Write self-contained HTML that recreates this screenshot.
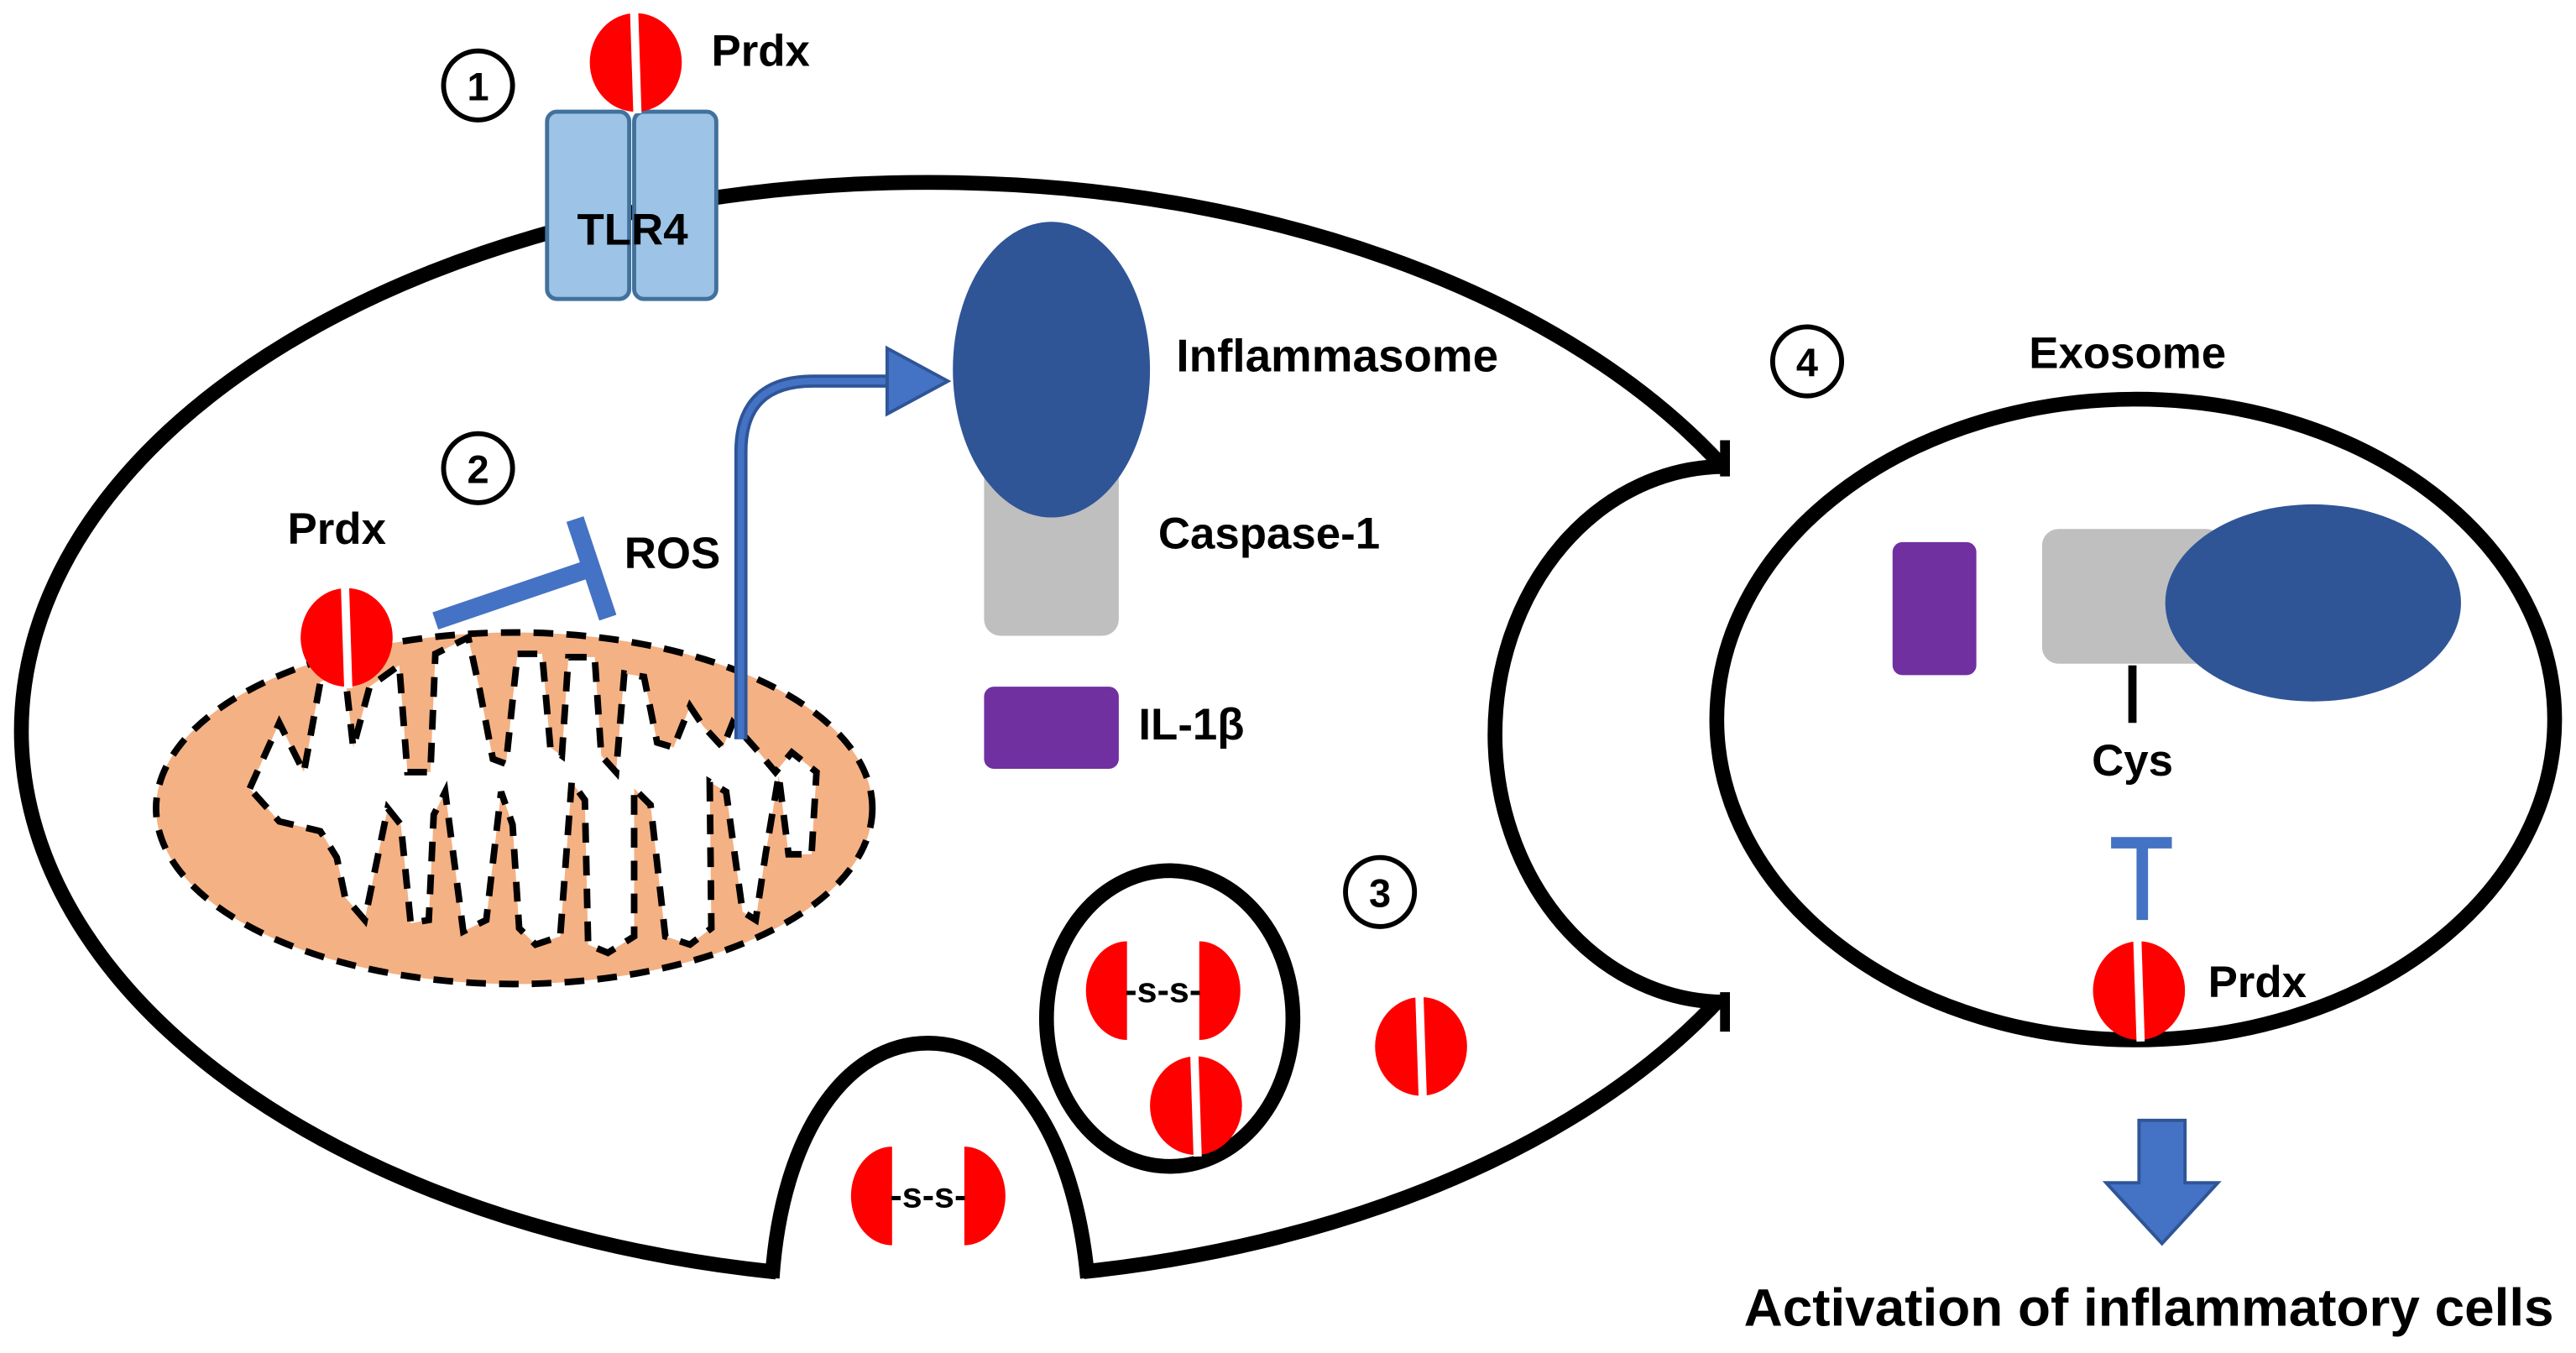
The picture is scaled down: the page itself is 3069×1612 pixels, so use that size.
<!DOCTYPE html>
<html><head><meta charset="utf-8"><style>
html,body{margin:0;padding:0;background:#fff;}
svg{display:block;}
text{font-family:"Liberation Sans",Arial,sans-serif;font-weight:bold;fill:#000;}
</style></head><body>
<svg width="3069" height="1612" viewBox="0 0 1568 823.6" preserveAspectRatio="none" xmlns="http://www.w3.org/2000/svg">
<defs>
<g id="prdx">
<ellipse cx="0" cy="0" rx="28" ry="30" fill="#ff0000"/>
<line x1="-1" y1="-31" x2="1" y2="31" stroke="#fff" stroke-width="5"/>
</g>
<g id="ss">
<path d="M-22,-30 A25,30 0 0 0 -22,30 Z" fill="#ff0000"/>
<path d="M22,-30 A25,30 0 0 1 22,30 Z" fill="#ff0000"/>
<text x="0" y="7" font-size="22" text-anchor="middle" font-weight="normal">-s-s-</text>
</g>
</defs>

<clipPath id="cellclip"><rect x="0" y="0" width="1050" height="824"/></clipPath>
<g clip-path="url(#cellclip)">
<ellipse cx="565" cy="445" rx="552" ry="334" fill="none" stroke="#000" stroke-width="9"/>
</g>
<path d="M1050,284 A140,163 0 0 0 1050,610 L1100,610 L1100,284 Z" fill="#fff"/>
<path d="M1050,284 A140,163 0 0 0 1050,610" fill="none" stroke="#000" stroke-width="9"/>
<line x1="1050" y1="268" x2="1050" y2="290" stroke="#000" stroke-width="6"/>
<line x1="1050" y1="604" x2="1050" y2="628" stroke="#000" stroke-width="6"/>
<path d="M472,790 L472,770 C478,690 515,635 565,635 C615,635 652,690 660,770 L660,790 Z" fill="#fff"/>
<path d="M470,778 C476,690 515,635 565,635 C615,635 654,690 662,778" fill="none" stroke="#000" stroke-width="9"/>
<rect x="465" y="780" width="205" height="20" fill="#fff"/>
<rect x="1053" y="240" width="20" height="420" fill="#fff"/>

<rect x="333" y="68" width="50" height="114" rx="6" fill="#9dc3e6" stroke="#41719c" stroke-width="2.5"/>
<rect x="386" y="68" width="50" height="114" rx="6" fill="#9dc3e6" stroke="#41719c" stroke-width="2.5"/>
<text x="385" y="149" font-size="27" text-anchor="middle">TLR4</text>
<use href="#prdx" x="387" y="38"/>
<text x="433" y="40" font-size="27">Prdx</text>
<circle cx="291" cy="52" r="21" fill="#fff" stroke="#000" stroke-width="3"/>
<text x="291" y="61" font-size="24" text-anchor="middle" font-weight="normal">1</text>

<rect x="599" y="280" width="82" height="107" rx="10" fill="#bfbfbf"/>
<ellipse cx="640" cy="225" rx="60" ry="90" fill="#2f5597"/>
<text x="716" y="226" font-size="28">Inflammasome</text>
<text x="705" y="334" font-size="27">Caspase-1</text>
<rect x="599" y="418" width="82" height="50" rx="6" fill="#7030a0"/>
<text x="693" y="450" font-size="27">IL-1β</text>

<ellipse cx="313" cy="492" rx="218" ry="107" fill="#f4b183" stroke="#000" stroke-width="4" stroke-dasharray="12,8"/>
<path d="M152,480 L170,440 L185,470 L195,415 L210,410 L215,455 L225,418 L243,405 L248,470 L262,470 L265,398 L285,388 L292,420 L300,462 L308,465 L315,398 L330,398 L335,455 L342,460 L346,400 L362,400 L366,460 L375,470 L380,410 L392,412 L400,452 L410,455 L420,430 L428,442 L440,455 L446,440 L462,458 L472,470 L482,458 L497,470 L494,520 L480,520 L474,472 L466,520 L460,560 L452,555 L442,482 L432,476 L433,565 L420,575 L405,570 L396,490 L386,480 L386,570 L370,580 L358,575 L356,487 L348,476 L341,570 L326,575 L316,565 L312,502 L305,482 L296,560 L282,567 L271,482 L264,496 L261,560 L250,562 L244,502 L236,492 L222,560 L210,546 L205,522 L195,506 L170,500 Z" fill="#fff" stroke="#000" stroke-width="4" stroke-dasharray="12,8"/>

<line x1="265" y1="378" x2="362" y2="345" stroke="#4472c4" stroke-width="11"/>
<line x1="350" y1="316" x2="370" y2="376" stroke="#4472c4" stroke-width="11"/>
<use href="#prdx" x="211" y="388"/>
<text x="175" y="331" font-size="27">Prdx</text>
<text x="380" y="346" font-size="27">ROS</text>
<circle cx="291" cy="285" r="21" fill="#fff" stroke="#000" stroke-width="3"/>
<text x="291" y="294" font-size="24" text-anchor="middle" font-weight="normal">2</text>

<path d="M451,450 L451,275 Q451,232 495,232 L545,232" fill="none" stroke="#2f5597" stroke-width="8"/>
<path d="M451,450 L451,275 Q451,232 495,232 L545,232" fill="none" stroke="#4472c4" stroke-width="4"/>
<polygon points="540,212 577,232 540,252" fill="#4472c4" stroke="#2f5597" stroke-width="2"/>

<ellipse cx="712" cy="620" rx="75" ry="90" fill="#fff" stroke="#000" stroke-width="9"/>
<use href="#ss" x="708" y="603"/>
<use href="#prdx" x="728" y="673"/>
<use href="#prdx" x="865" y="637"/>
<circle cx="840" cy="543" r="21" fill="#fff" stroke="#000" stroke-width="3"/>
<text x="840" y="552" font-size="24" text-anchor="middle" font-weight="normal">3</text>

<use href="#ss" x="565" y="728"/>

<circle cx="1100" cy="220" r="21" fill="#fff" stroke="#000" stroke-width="3"/>
<text x="1100" y="229" font-size="24" text-anchor="middle" font-weight="normal">4</text>
<text x="1295" y="224" font-size="27" text-anchor="middle">Exosome</text>
<ellipse cx="1300" cy="438" rx="255" ry="195" fill="#fff" stroke="#000" stroke-width="9"/>
<rect x="1152" y="330" width="51" height="81" rx="6" fill="#7030a0"/>
<rect x="1243" y="322" width="110" height="82" rx="10" fill="#bfbfbf"/>
<ellipse cx="1408" cy="367" rx="90" ry="60" fill="#2f5597"/>
<line x1="1298" y1="405" x2="1298" y2="440" stroke="#000" stroke-width="5"/>
<text x="1298" y="472" font-size="27" text-anchor="middle">Cys</text>
<line x1="1285" y1="513" x2="1322" y2="513" stroke="#4472c4" stroke-width="7"/>
<line x1="1304" y1="513" x2="1304" y2="560" stroke="#4472c4" stroke-width="7"/>
<use href="#prdx" x="1302" y="603"/>
<text x="1344" y="607" font-size="27">Prdx</text>

<polygon points="1302,682 1330,682 1330,720 1350,720 1316,757 1282,720 1302,720" fill="#4472c4" stroke="#2f5597" stroke-width="2"/>
<text x="1308" y="807" font-size="32" text-anchor="middle" textLength="493" lengthAdjust="spacingAndGlyphs">Activation of inflammatory cells</text>
</svg>
</body></html>
